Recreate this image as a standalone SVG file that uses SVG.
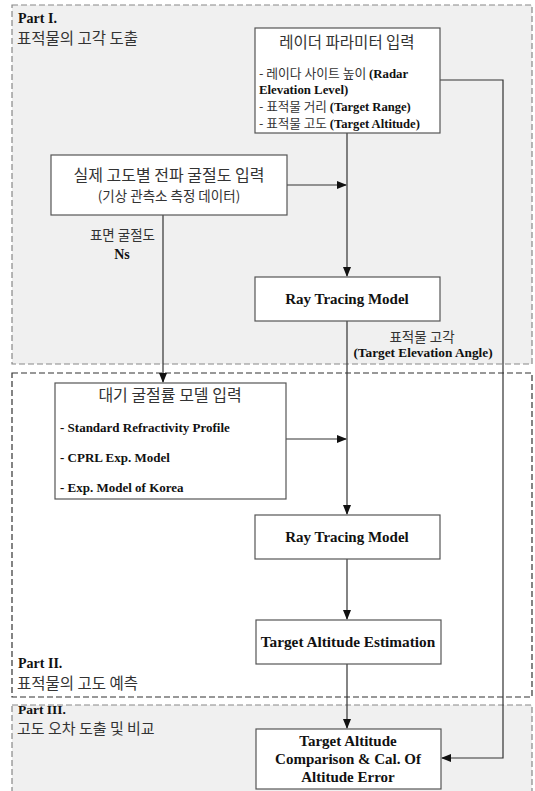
<svg xmlns="http://www.w3.org/2000/svg" width="535" height="791" viewBox="0 0 535 791">
<style>
.ko{font-family:"Noto Sans CJK KR","Noto Sans",sans-serif;fill:#333;}
.en{font-family:"Liberation Serif","Times New Roman",serif;font-weight:bold;fill:#111;}
.box{fill:#fff;stroke:#555;stroke-width:1.2;}
.ln{fill:none;stroke:#333;stroke-width:1.2;}
</style>
<defs>
<marker id="ah" markerWidth="10" markerHeight="8" refX="9" refY="4" orient="auto" markerUnits="userSpaceOnUse">
<path d="M0,0 L10,4 L0,8 Z" fill="#111"/>
</marker>
</defs>
<rect width="535" height="791" fill="#fff"/>
<g id="part1">
<rect x="12" y="5" width="520" height="359" fill="#f0f0f0" stroke="#888" stroke-width="1.2" stroke-dasharray="6,3"/>
<text x="18" y="23" class="en" font-size="14">Part I.</text>
<text x="17" y="44" class="ko" font-size="15.5">표적물의 고각 도출</text>
</g>
<g id="part2">
<rect x="12" y="373" width="520" height="324" fill="#fff" stroke="#333" stroke-width="1.2" stroke-dasharray="6,3"/>
<text x="18" y="667.5" class="en" font-size="14">Part II.</text>
<text x="17" y="688.5" class="ko" font-size="15.5">표적물의 고도 예측</text>
</g>
<g id="part3">
<rect x="12" y="705" width="520" height="100" fill="#f0f0f0" stroke="#888" stroke-width="1.2" stroke-dasharray="6,3"/>
<text x="18" y="714" class="en" font-size="13.5">Part III.</text>
<text x="17" y="734" class="ko" font-size="15">고도 오차 도출 및 비교</text>
</g>
<g id="connectors">
<path class="ln" d="M347,133 V276" marker-end="url(#ah)"/>
<path class="ln" d="M287,185 H346" marker-end="url(#ah)"/>
<path class="ln" d="M163,215 V382" marker-end="url(#ah)"/>
<path class="ln" d="M347,321 V514" marker-end="url(#ah)"/>
<path class="ln" d="M286,439 H346" marker-end="url(#ah)"/>
<path class="ln" d="M347,559 V619" marker-end="url(#ah)"/>
<path class="ln" d="M347,664 V728" marker-end="url(#ah)"/>
<path class="ln" d="M440,80 H503 V758 H442" stroke="#555" marker-end="url(#ah)"/>
<text x="155" y="240" class="ko" font-size="13.5" text-anchor="end">표면 굴절도</text>
<text x="122" y="259" class="en" font-size="14" text-anchor="middle">Ns</text>
<text x="422" y="342" class="ko" font-size="13.5" text-anchor="middle">표적물 고각</text>
<text x="423" y="357" class="en" font-size="13.3" text-anchor="middle">(Target Elevation Angle)</text>
</g>
<g id="radar">
<rect class="box" x="255" y="28" width="185" height="105"/>
<text x="347" y="48" class="ko" font-size="15.5" text-anchor="middle">레이더 파라미터 입력</text>
<text x="259" y="77.5" font-size="12.8"><tspan class="ko">- 레이다 사이트 높이 </tspan><tspan class="en">(Radar</tspan></text>
<text x="259" y="94" class="en" font-size="12.8">Elevation Level)</text>
<text x="259" y="110.5" font-size="12.6"><tspan class="ko">- 표적물 거리 </tspan><tspan class="en">(Target Range)</tspan></text>
<text x="259" y="128" font-size="12.6"><tspan class="ko">- 표적물 고도 </tspan><tspan class="en">(Target Altitude)</tspan></text>
</g>
<g id="refract">
<rect class="box" x="51" y="155" width="236" height="60"/>
<text x="169" y="180.5" class="ko" font-size="16" text-anchor="middle">실제 고도별 전파 굴절도 입력</text>
<text x="169" y="201" class="ko" font-size="13.5" text-anchor="middle">(기상 관측소 측정 데이터)</text>
</g>
<g id="rtm1">
<rect class="box" x="255" y="277" width="185" height="44"/>
<text x="347" y="304" class="en" font-size="15" text-anchor="middle">Ray Tracing Model</text>
</g>
<g id="atmos">
<rect class="box" x="55" y="383" width="231" height="116" stroke="#777"/>
<text x="170" y="401" class="ko" font-size="16" text-anchor="middle">대기 굴절률 모델 입력</text>
<text x="60" y="432" class="en" font-size="13">- Standard Refractivity Profile</text>
<text x="60" y="462" class="en" font-size="13">- CPRL Exp. Model</text>
<text x="60" y="492" class="en" font-size="13">- Exp. Model of Korea</text>
</g>
<g id="rtm2">
<rect class="box" x="255" y="515" width="185" height="44"/>
<text x="347" y="542" class="en" font-size="15" text-anchor="middle">Ray Tracing Model</text>
</g>
<g id="tae">
<rect class="box" x="256" y="620" width="185" height="44"/>
<text x="348" y="647" class="en" font-size="15.3" text-anchor="middle">Target Altitude Estimation</text>
</g>
<g id="compare">
<rect class="box" x="256" y="729" width="185" height="60"/>
<text x="348" y="746" class="en" font-size="15" text-anchor="middle">Target Altitude</text>
<text x="348" y="764" class="en" font-size="15" text-anchor="middle">Comparison &amp; Cal. Of</text>
<text x="348" y="782" class="en" font-size="15" text-anchor="middle">Altitude Error</text>
</g>
</svg>
